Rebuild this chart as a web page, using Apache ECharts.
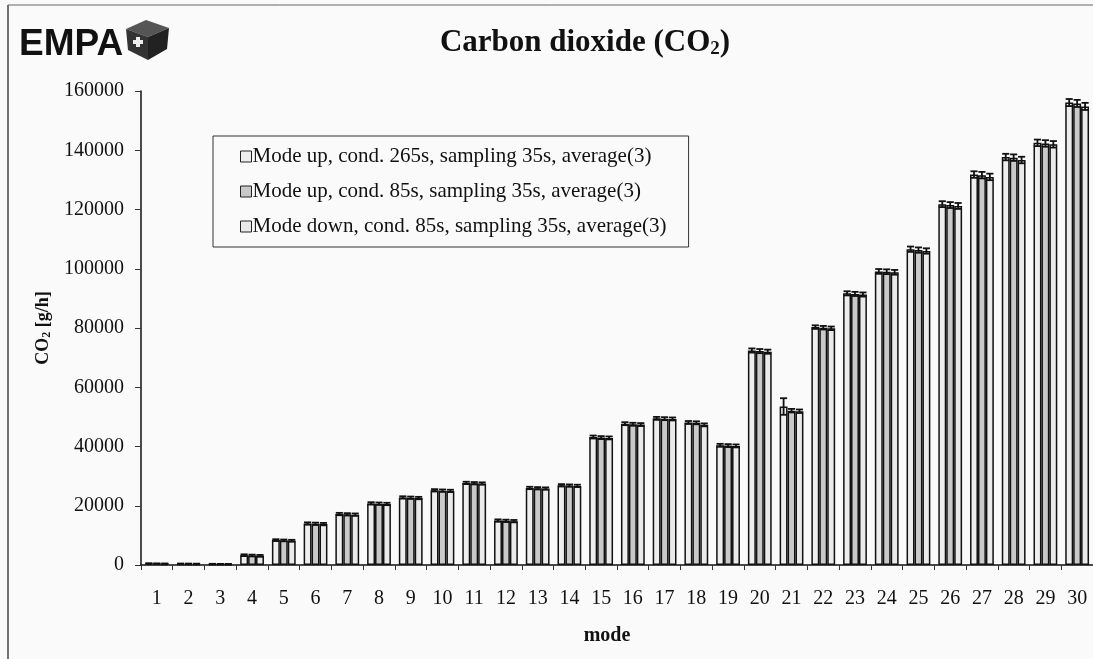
<!DOCTYPE html>
<html>
<head>
<meta charset="utf-8">
<script src="https://cdn.jsdelivr.net/npm/echarts@6/dist/echarts.min.js"></script>
<style>
html,body{margin:0;padding:0;background:#fafafa;}
#chart{width:1093px;height:659px;}
</style>
</head>
<body>
<div id="chart"></div>
<script>
var categories = ['1','2','3','4','5','6','7','8','9','10','11','12','13','14','15','16','17','18','19','20','21','22','23','24','25','26','27','28','29','30'];
var seriesNames = ['Mode up, cond. 265s, sampling 35s, average(3)','Mode up, cond. 85s, sampling 35s, average(3)','Mode down, cond. 85s, sampling 35s, average(3)'];
var up265 = [500,400,300,3300,8400,14000,17200,20800,22800,25200,27700,15000,26000,26900,43200,47700,49500,48100,40400,72400,53500,80300,91700,99100,106600,121800,131800,137700,142500,156100];
var up85 = [450,380,280,3200,8300,13900,17100,20700,22700,25100,27600,14900,25900,26800,43000,47500,49400,48000,40300,72200,52100,80100,91500,99000,106300,121500,131600,137500,142300,155800];
var down85 = [420,350,260,3100,8200,13800,17000,20600,22600,25000,27500,14800,25800,26700,42900,47400,49300,47300,40200,72000,51900,79900,91300,98800,106000,121200,131000,136700,142000,154800];
var errUp265 = [100,100,100,300,300,400,400,400,400,400,400,400,400,400,500,500,500,500,500,700,2800,600,700,800,900,1000,1100,1100,1100,1200];
var errUp85 = [100,100,100,300,300,400,400,400,400,400,400,400,400,400,500,500,500,500,500,700,600,600,700,800,900,1000,1100,1100,1100,1200];
var errDown85 = [100,100,100,300,300,400,400,400,400,400,400,400,400,400,500,500,500,500,500,700,600,600,700,800,900,1000,1100,1100,1100,1200];
var yTicks = [0,20000,40000,60000,80000,100000,120000,140000,160000];

var chart = echarts.init(document.getElementById('chart'));
var serif = 'Liberation Serif';
var vals = [up265, up85, down85];
var errs = [errUp265, errUp85, errDown85];
var fills = ['#eeeeee', '#c9c9c9', '#eaeaea'];

function errRender(params, api) {
  var i = api.value(0);
  var c = api.coord([i, 0]);
  var band = api.size([1, 0])[0];
  var bw = band * 0.25;
  var children = [];
  for (var k = 0; k < 3; k++) {
    var x = c[0] + (k - 1) * bw;
    var v = vals[k][i], e = errs[k][i];
    var top = api.coord([i, v + e])[1];
    var bot = api.coord([i, v - e])[1];
    var hw = bw * 0.45;
    var st = {stroke: '#111', lineWidth: 1.8};
    children.push({type: 'line', shape: {x1: x, y1: top, x2: x, y2: bot}, style: st});
    children.push({type: 'line', shape: {x1: x - hw, y1: top, x2: x + hw, y2: top}, style: st});
    children.push({type: 'line', shape: {x1: x - hw, y1: bot, x2: x + hw, y2: bot}, style: st});
  }
  return {type: 'group', children: children};
}

var series = [];
for (var k = 0; k < 3; k++) {
  series.push({
    name: seriesNames[k],
    type: 'bar',
    data: vals[k],
    barWidth: '25%',
    barGap: '0%',
    itemStyle: {color: fills[k], borderColor: '#111', borderWidth: 1.5},
    emphasis: {disabled: true},
    z: 2
  });
}
series.push({
  type: 'custom',
  data: categories.map(function (c, i) { return [i]; }),
  renderItem: errRender,
  z: 5,
  silent: true
});

chart.setOption({
  backgroundColor: '#fafafa',
  animation: false,
  title: {
    text: '{t|Carbon dioxide (CO}{s|2}{t|)}',
    left: 580, top: 22, textAlign: 'center',
    textStyle: {rich: {
      t: {fontFamily: serif, fontWeight: 'bold', fontSize: 31, color: '#111'},
      s: {fontFamily: serif, fontWeight: 'bold', fontSize: 19, color: '#111', padding: [13, 0, 0, 0]}
    }}
  },
  legend: {
    orient: 'vertical',
    left: 213, top: 136,
    padding: [10, 22, 10, 27],
    itemGap: 14,
    itemWidth: 11, itemHeight: 11,
    icon: 'rect',
    backgroundColor: '#fafafa',
    borderColor: '#333', borderWidth: 1,
    itemStyle: {borderColor: '#222', borderWidth: 1},
    textStyle: {fontFamily: serif, fontSize: 21, color: '#111', padding: [0, 0, 0, -4]},
    data: seriesNames
  },
  grid: {left: 141, top: 91, width: 956, height: 474, containLabel: false},
  xAxis: {
    type: 'category',
    data: categories,
    name: 'mode',
    nameLocation: 'middle',
    nameGap: 61,
    nameTextStyle: {fontFamily: serif, fontWeight: 'bold', fontSize: 20, color: '#111', padding: [0, 0, 0, -20]},
    axisLine: {lineStyle: {color: '#111', width: 1.5}},
    axisTick: {show: true, inside: false, length: 5, lineStyle: {color: '#333'}},
    axisLabel: {fontFamily: serif, fontSize: 20, color: '#111', margin: 24, interval: 0}
  },
  yAxis: {
    type: 'value',
    min: 0, max: 160000, interval: 20000,
    name: '{a|CO}{b|2}{a| [g/h]}',
    nameLocation: 'middle',
    nameGap: 85,
    nameRotate: 90,
    nameTextStyle: {rich: {
      a: {fontFamily: serif, fontWeight: 'bold', fontSize: 18, color: '#111'},
      b: {fontFamily: serif, fontWeight: 'bold', fontSize: 12, color: '#111', padding: [8, 0, 0, 0]}
    }},
    splitLine: {show: false},
    axisLine: {show: true, lineStyle: {color: '#111', width: 1.5}},
    axisTick: {show: true, inside: false, length: 6, lineStyle: {color: '#333'}},
    axisLabel: {fontFamily: serif, fontSize: 20, color: '#111', margin: 17,
      formatter: function (v) { return yTicks.indexOf(v) >= 0 ? String(v) : ''; }}
  },
  graphic: [
    {type: 'line', shape: {x1: 8, y1: 5, x2: 8, y2: 659}, style: {stroke: '#444', lineWidth: 1.5}},
    {type: 'line', shape: {x1: 8, y1: 5, x2: 1093, y2: 5}, style: {stroke: '#666', lineWidth: 1}},
    {type: 'text', left: 19, top: 26, style: {text: 'EMPA', fontFamily: 'Liberation Sans', fontWeight: 'bold', fontSize: 37, fill: '#111'}},
    {type: 'group', left: 126, top: 20, children: [
      {type: 'polygon', shape: {points: [[2, 12], [22, 3], [45, 11], [24, 20]]}, style: {fill: '#555'}},
      {type: 'polygon', shape: {points: [[2, 12], [24, 20], [24, 43], [4, 33]]}, style: {fill: '#333'}},
      {type: 'polygon', shape: {points: [[24, 20], [45, 11], [43, 32], [24, 43]]}, style: {fill: '#222'}},
      {type: 'rect', shape: {x: 9, y: 23, width: 10, height: 4}, style: {fill: '#eee'}},
      {type: 'rect', shape: {x: 12, y: 20, width: 4, height: 10}, style: {fill: '#eee'}}
    ]}
  ],
  series: series
});
</script>
</body>
</html>
